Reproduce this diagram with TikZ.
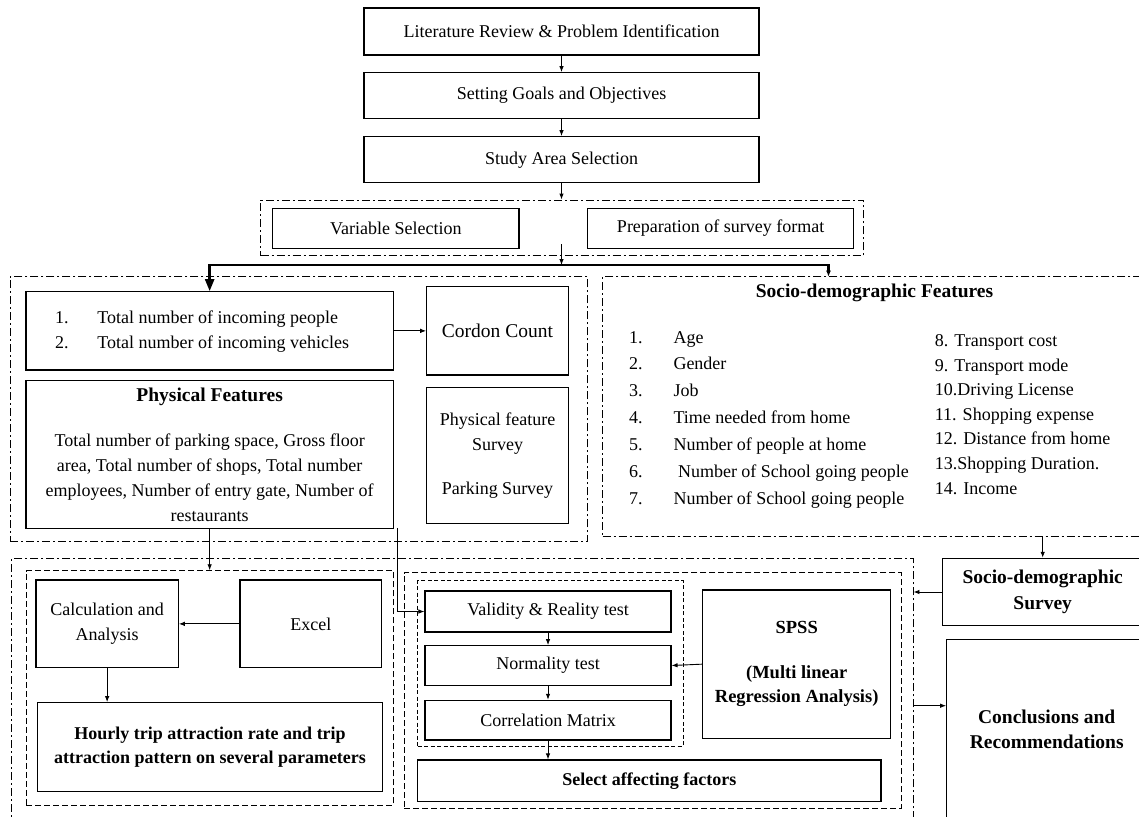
\documentclass[tikz,border=0pt]{standalone}
\usepackage{fontspec}
\setmainfont{Liberation Serif}
\usetikzlibrary{arrows.meta}

\begin{document}
\begin{tikzpicture}[x=1pt,y=1pt,yscale=-1,xscale=1,
  box/.style={draw, line width=1.1pt, inner sep=0pt, align=center, font=\fontsize{18}{25}\selectfont},
  hbox/.style={box, font=\fontsize{19.5}{25.7}\selectfont\bfseries},
  dashdot/.style={draw, line width=0.9pt, dash pattern=on 8pt off 3pt on 2pt off 3pt, inner sep=0pt},
  dashbox/.style={draw, line width=0.9pt, dash pattern=on 6pt off 3pt, inner sep=0pt},
  arr/.style={line width=0.9pt, -{Latex[length=6pt,width=4.5pt]}},
  heavy/.style={line width=2.4pt}]
        \clip (0,0) rectangle (1139,816);

        %Shape: Rectangle [frames]
        \node[dashdot, minimum width=602.6, minimum height=55.7] (afr) at (562,227.85) {};
        \node[dashdot, minimum width=577.7, minimum height=265] (bfr) at (298.85,409.2) {};
        \node[dashdot, minimum width=547.3, minimum height=260] (sfr) at (876.35,406.7) {};
        \node[dashdot, minimum width=901.3, minimum height=271.7] (cfr) at (462.35,694.15) {};
        \node[dashbox, minimum width=367.3, minimum height=234.3] (c1fr) at (209.65,687.85) {};
        \node[dashbox, minimum width=497, minimum height=235.3] (c2fr) at (652.5,690.35) {};
        \node[dashbox, dash pattern=on 4pt off 2.5pt, minimum width=265.6, minimum height=165.3] (dfr) at (550.5,663.35) {};

        %Shape: Rectangle [top]
        \node[box, minimum width=395, minimum height=47] (lit) at (561.5,31.5) {Literature Review \& Problem Identification};
        \node[box, minimum width=395, minimum height=45.6] (goals) at (561.5,95.5) {Setting Goals and Objectives};
        \node[box, minimum width=395, minimum height=46] (area) at (561.5,159.7) {Study Area Selection};
        \node[box, minimum width=246.3, minimum height=40] (var) at (395.85,228.3) {Variable Selection};
        \node[box, minimum width=266, minimum height=40] (prep) at (720.7,228.3) {Preparation of survey format};

        %Shape: Rectangle [physical]
        \node[box, minimum width=367.3, minimum height=78.3] (total) at (209.65,330.85) {\begin{tabular}{@{}p{42.3pt}@{}p{267pt}@{}}1. & Total number of incoming people\\ 2. & Total number of incoming vehicles\end{tabular}};
        \node[box, font=\fontsize{19.5}{24}\selectfont, minimum width=141.6, minimum height=88.3] (cordon) at (497.5,330.85) {Cordon Count};
        \node[box, font=\fontsize{18}{24.8}\selectfont, minimum width=367.3, minimum height=147.6] (phys) at (209.65,454.5) {{\fontsize{19.5}{24}\selectfont\bfseries Physical Features}\\[21pt] Total number of parking space, Gross floor\\ area, Total number of shops, Total number\\ employees, Number of entry gate, Number of\\ restaurants};
        \node[box, minimum width=141.6, minimum height=135.6] (psurvey) at (497.5,455.5) {Physical feature\\ Survey\\[19pt] Parking Survey};

        % Text Node
        \node[font=\fontsize{19.5}{24}\selectfont\bfseries] (stitle) at (874.5,293.3) {Socio-demographic Features};
        % Text Node
        \node[anchor=base west, inner sep=0pt, font=\fontsize{18}{26.9}\selectfont] (slist) at (629,343) {\begin{tabular}[t]{@{}p{44.3pt}@{}l@{}}
          1. & Age\\ 2. & Gender\\ 3. & Job\\ 4. & Time needed from home\\ 5. & Number of people at home\\
          6. & \hspace{4.5pt}Number of School going people\\ 7. & Number of School going people\end{tabular}};
        % Text Node
        \node[anchor=base west, inner sep=0pt, font=\fontsize{18}{24.55}\selectfont] (rlist) at (934.7,346.7) {\begin{tabular}[t]{@{}l@{}}
          8. Transport cost\\ 9. Transport mode\\ 10.Driving License\\ 11. Shopping expense\\
          12. Distance from home\\ 13.Shopping Duration.\\ 14. Income\end{tabular}};

        %Shape: Rectangle [analysis]
        \node[box, minimum width=142.3, minimum height=87.7] (calc) at (107.15,623.85) {Calculation and\\ Analysis};
        \node[box, minimum width=141.7, minimum height=87.7] (excel) at (310.85,623.85) {Excel};
        \node[box, font=\fontsize{18}{24.3}\selectfont\bfseries, minimum width=344.6, minimum height=89] (hourly) at (210,747.2) {Hourly trip attraction rate and trip\\ attraction pattern on several parameters};
        \node[box, minimum width=246, minimum height=41] (valid) at (548,611.5) {Validity \& Reality test};
        \node[box, minimum width=246, minimum height=39.6] (normal) at (548,665.5) {Normality test};
        \node[box, minimum width=246, minimum height=39.7] (corr) at (548,720.15) {Correlation Matrix};
        \node[box, font=\fontsize{18}{24}\selectfont\bfseries, minimum width=463.3, minimum height=41.7] (select) at (649.35,780.85) {Select affecting factors};
        \node[box, font=\fontsize{18.5}{24.3}\selectfont\bfseries, minimum width=188, minimum height=148.3] (spss) at (796.7,664.15) {SPSS\\[20.7pt] (Multi linear\\ Regression Analysis)};
        \node[hbox, minimum width=200, minimum height=67.4] (ssurvey) at (1042.7,592) {Socio-demographic\\ Survey};
        \node[hbox, minimum width=200, minimum height=180] (concl) at (1046.7,729.3) {Conclusions and\\ Recommendations};

        \coordinate (j) at (561.5,265);
        \coordinate (vs) at (561.5,244);
        \coordinate (sfin) at (828.5,276.7);
        \coordinate (pout) at (397.3,528.3);
        \coordinate (cout) at (913,705.7);

        %Straight Lines
        \draw[arr] (lit.south) -- (goals.north);
        \draw[arr] (goals.south) -- (area.north);
        \draw[arr] (area.south) -- (area.south |- afr.north);
        \draw[arr] (vs) -- (j);
        \draw[heavy, -{Triangle[length=12pt,width=9pt]}] (j) -| (total.north);
        \draw[heavy, -{Latex[length=6pt,width=5pt]}] (j) -| (sfin);
        \draw[arr] (total.east) -- (cordon.west);
        \draw[arr] (phys.south) -- (c1fr.north);
        \draw[arr] (pout) |- (valid.west);
        \draw[arr] (excel.west) -- (calc.east);
        \draw[arr] (calc.south) -- (calc.south |- hourly.north);
        \draw[arr] (valid.south) -- (normal.north);
        \draw[arr] (normal.south) -- (corr.north);
        \draw[arr] (corr.south) -- (corr.south |- select.north);
        \draw[arr] (spss.west) -- (normal.east);
        \draw[arr] (ssurvey.north |- sfr.south) -- (ssurvey.north);
        \draw[arr] (ssurvey.west) -- (ssurvey.west -| cfr.east);
        \draw[arr] (cout) -- (cout -| concl.west);

\end{tikzpicture}
\end{document}
